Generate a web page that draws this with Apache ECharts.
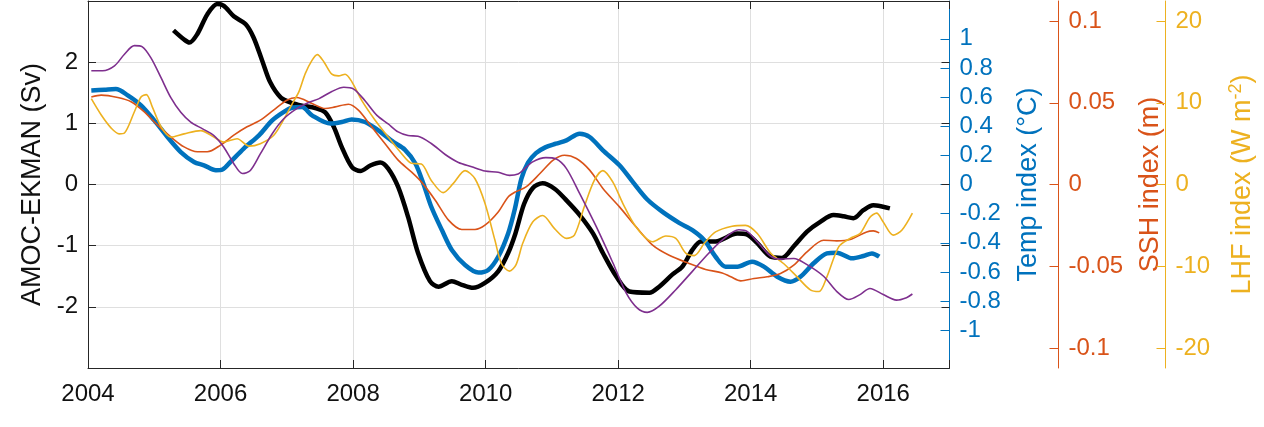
<!DOCTYPE html>
<html>
<head>
<meta charset="utf-8">
<script src="https://cdn.jsdelivr.net/npm/echarts@6/dist/echarts.min.js"></script>
<style>
html,body{margin:0;padding:0;background:#fff;}
#chart{width:1264px;height:427px;}
</style>
</head>
<body>
<div id="chart"></div>
<script>
// ---- tick labels ----
const yearTicks = [2004, 2006, 2008, 2010, 2012, 2014, 2016];
const amocTicks = [-2, -1, 0, 1, 2];
const tempTicks = [-1, -0.8, -0.6, -0.4, -0.2, 0, 0.2, 0.4, 0.6, 0.8, 1];
const sshTicks = [-0.1, -0.05, 0, 0.05, 0.1];
const lhfTicks = [-20, -10, 0, 10, 20];

// ---- series values: [decimal year, value] ----
const amocEkman = [ // Sv
[2005.29,2.52],[2005.45,2.37],[2005.53,2.32],[2005.65,2.46],[2005.80,2.78],[2005.95,2.95],
[2006.05,2.92],[2006.20,2.75],[2006.38,2.62],[2006.50,2.40],[2006.63,2.02],[2006.75,1.67],
[2006.91,1.42],[2007.06,1.34],[2007.23,1.29],[2007.43,1.25],[2007.58,1.18],[2007.71,0.94],
[2007.83,0.61],[2007.98,0.29],[2008.11,0.22],[2008.26,0.31],[2008.41,0.36],[2008.53,0.26],
[2008.68,-0.04],[2008.83,-0.53],[2008.98,-1.12],[2009.16,-1.58],[2009.29,-1.67],[2009.49,-1.58],
[2009.64,-1.64],[2009.81,-1.69],[2009.99,-1.61],[2010.19,-1.42],[2010.34,-1.12],[2010.45,-0.80],
[2010.58,-0.32],[2010.71,-0.06],[2010.86,0.02],[2011.04,-0.07],[2011.22,-0.26],[2011.42,-0.50],
[2011.62,-0.80],[2011.77,-1.12],[2011.97,-1.50],[2012.17,-1.75],[2012.47,-1.77],[2012.62,-1.67],
[2012.82,-1.47],[2012.97,-1.34],[2013.12,-1.07],[2013.25,-0.93],[2013.47,-0.93],[2013.72,-0.82],
[2013.80,-0.80],[2013.95,-0.82],[2014.10,-0.96],[2014.30,-1.18],[2014.47,-1.20],[2014.65,-1.01],
[2014.85,-0.77],[2015.05,-0.61],[2015.25,-0.50],[2015.40,-0.52],[2015.55,-0.55],[2015.70,-0.42],
[2015.85,-0.34],[2015.98,-0.36],[2016.10,-0.39]
];
const tempIndex = [ // degC
[2004.05,0.646],[2004.25,0.651],[2004.42,0.655],[2004.60,0.612],[2004.80,0.543],[2005.00,0.440],
[2005.20,0.326],[2005.40,0.223],[2005.60,0.155],[2005.75,0.132],[2005.93,0.098],[2006.03,0.103],
[2006.15,0.155],[2006.35,0.247],[2006.58,0.338],[2006.78,0.440],[2006.95,0.497],[2007.08,0.527],
[2007.23,0.532],[2007.38,0.475],[2007.66,0.418],[2007.83,0.429],[2007.98,0.447],[2008.18,0.429],
[2008.38,0.372],[2008.61,0.292],[2008.78,0.240],[2008.94,0.144],[2009.06,0.007],[2009.18,-0.153],
[2009.34,-0.313],[2009.49,-0.450],[2009.69,-0.553],[2009.89,-0.605],[2010.04,-0.587],[2010.19,-0.496],
[2010.34,-0.336],[2010.44,-0.170],[2010.54,0.040],[2010.64,0.150],[2010.76,0.215],[2010.90,0.255],
[2011.06,0.280],[2011.22,0.303],[2011.42,0.349],[2011.57,0.326],[2011.77,0.235],[2012.02,0.132],
[2012.22,0.018],[2012.44,-0.103],[2012.67,-0.188],[2012.92,-0.263],[2013.12,-0.313],[2013.30,-0.382],
[2013.47,-0.496],[2013.62,-0.564],[2013.80,-0.564],[2014.02,-0.530],[2014.20,-0.564],[2014.40,-0.633],
[2014.60,-0.667],[2014.75,-0.633],[2014.95,-0.541],[2015.15,-0.473],[2015.30,-0.468],[2015.53,-0.507],
[2015.70,-0.491],[2015.83,-0.473],[2015.94,-0.496]
];
const sshIndex = [ // m
[2004.05,0.0536],[2004.20,0.0547],[2004.45,0.0532],[2004.65,0.0506],[2004.85,0.0444],[2005.05,0.0363],
[2005.25,0.0291],[2005.45,0.0230],[2005.65,0.0200],[2005.80,0.0200],[2006.00,0.0241],[2006.20,0.0302],
[2006.40,0.0353],[2006.60,0.0394],[2006.80,0.0455],[2007.00,0.0516],[2007.15,0.0532],[2007.38,0.0496],
[2007.58,0.0465],[2007.73,0.0475],[2007.93,0.0491],[2008.08,0.0455],[2008.28,0.0353],[2008.48,0.0251],
[2008.68,0.0149],[2008.88,0.0077],[2009.03,0.0016],[2009.24,-0.0096],[2009.44,-0.0218],[2009.64,-0.0275],
[2009.84,-0.0275],[2009.99,-0.0249],[2010.19,-0.0168],[2010.34,-0.0076],[2010.45,-0.0045],[2010.61,-0.0015],
[2010.82,0.0067],[2011.02,0.0149],[2011.19,0.0179],[2011.37,0.0159],[2011.57,0.0088],[2011.77,-0.0024],
[2012.02,-0.0137],[2012.27,-0.0259],[2012.52,-0.0371],[2012.77,-0.0433],[2013.07,-0.0483],[2013.32,-0.0520],
[2013.57,-0.0541],[2013.70,-0.0565],[2013.85,-0.0590],[2014.05,-0.0575],[2014.25,-0.0565],[2014.45,-0.0545],
[2014.65,-0.0494],[2014.85,-0.0412],[2015.10,-0.0341],[2015.30,-0.0345],[2015.50,-0.0337],[2015.75,-0.0290],
[2015.85,-0.0284],[2015.94,-0.0296]
];
const lhfIndex = [ // W m-2
[2004.05,10.5],[2004.20,8.5],[2004.35,6.9],[2004.47,6.2],[2004.55,6.3],[2004.70,8.9],[2004.80,10.7],
[2004.88,11.0],[2004.97,9.5],[2005.10,7.1],[2005.25,5.8],[2005.45,6.2],[2005.70,6.6],[2005.90,5.8],
[2006.05,5.2],[2006.25,5.6],[2006.43,4.7],[2006.60,5.0],[2006.80,6.0],[2006.95,7.9],[2007.11,10.3],
[2007.18,11.3],[2007.28,13.6],[2007.38,15.2],[2007.46,15.9],[2007.56,15.0],[2007.68,13.5],[2007.78,13.3],
[2007.88,13.5],[2007.98,12.6],[2008.13,10.3],[2008.33,7.9],[2008.53,5.8],[2008.73,3.8],[2008.88,2.6],
[2009.03,2.5],[2009.18,0.5],[2009.36,-1.0],[2009.51,0.1],[2009.69,1.7],[2009.84,0.7],[2009.99,-2.3],
[2010.14,-6.8],[2010.24,-9.7],[2010.36,-10.6],[2010.46,-9.8],[2010.56,-7.2],[2010.71,-4.6],[2010.86,-3.8],
[2011.04,-5.4],[2011.22,-6.6],[2011.34,-6.2],[2011.49,-2.7],[2011.64,0.5],[2011.77,1.7],[2011.92,0.3],
[2012.07,-2.3],[2012.27,-5.2],[2012.52,-7.0],[2012.72,-6.3],[2012.87,-6.6],[2013.02,-8.4],[2013.15,-8.7],
[2013.30,-7.2],[2013.47,-5.8],[2013.72,-5.1],[2013.92,-5.0],[2014.10,-6.0],[2014.30,-8.4],[2014.50,-9.7],
[2014.70,-11.3],[2014.90,-12.9],[2015.03,-13.1],[2015.15,-11.3],[2015.33,-7.6],[2015.50,-6.6],[2015.65,-6.0],
[2015.80,-4.0],[2015.90,-3.5],[2016.00,-4.6],[2016.15,-6.2],[2016.28,-5.6],[2016.44,-3.5]
];
const purpleIndex = [ // plotted against left axis
[2004.05,1.86],[2004.22,1.86],[2004.40,1.94],[2004.55,2.13],[2004.70,2.27],[2004.82,2.25],[2004.95,2.07],
[2005.10,1.75],[2005.25,1.42],[2005.40,1.18],[2005.55,1.02],[2005.73,0.91],[2005.90,0.80],[2006.05,0.61],
[2006.20,0.34],[2006.33,0.18],[2006.45,0.23],[2006.60,0.50],[2006.78,0.83],[2006.95,1.07],[2007.15,1.24],
[2007.33,1.34],[2007.48,1.40],[2007.68,1.52],[2007.86,1.59],[2008.01,1.56],[2008.18,1.37],[2008.36,1.13],
[2008.53,0.99],[2008.68,0.86],[2008.83,0.80],[2008.98,0.79],[2009.18,0.67],[2009.39,0.49],[2009.59,0.36],
[2009.79,0.29],[2009.99,0.22],[2010.19,0.20],[2010.36,0.15],[2010.49,0.17],[2010.56,0.23],[2010.71,0.37],
[2010.91,0.44],[2011.06,0.42],[2011.22,0.26],[2011.42,-0.15],[2011.67,-0.69],[2011.92,-1.28],[2012.12,-1.77],
[2012.29,-2.02],[2012.44,-2.09],[2012.62,-1.99],[2012.87,-1.72],[2013.12,-1.42],[2013.37,-1.12],[2013.57,-0.91],
[2013.82,-0.74],[2013.95,-0.77],[2014.12,-0.96],[2014.30,-1.17],[2014.45,-1.22],[2014.65,-1.21],[2014.85,-1.31],
[2015.10,-1.50],[2015.30,-1.75],[2015.48,-1.88],[2015.65,-1.80],[2015.80,-1.70],[2016.00,-1.80],[2016.20,-1.89],
[2016.35,-1.85],[2016.44,-1.79]
];

const FONT = 'Liberation Sans, Arial, Helvetica, sans-serif';
const C_BLUE = '#0072BD', C_RED = '#D95319', C_YEL = '#EDB120', C_PUR = '#7E2F8E', C_AX = '#262626';

const chart = echarts.init(document.getElementById('chart'), null, {renderer: 'canvas'});

function rightAxis(offset, min, max, ticks, color, name, nameGap, rich) {
  const ax = {
    type: 'value', position: 'right', offset: offset, min: min, max: max,
    name: name, nameLocation: 'middle', nameRotate: 90, nameGap: nameGap,
    nameTextStyle: {color: color, fontSize: 27, fontFamily: FONT},
    axisLine: {show: true, onZero: false, lineStyle: {color: color, width: 1}},
    axisTick: {show: true, inside: true, length: 9, customValues: ticks, lineStyle: {color: color}},
    axisLabel: {show: true, customValues: ticks, color: color, fontSize: 24, fontFamily: FONT, margin: 10,
                formatter: v => String(v)},
    splitLine: {show: false}
  };
  if (rich) ax.nameTextStyle.rich = rich;
  return ax;
}

const option = {
  animation: false,
  backgroundColor: '#ffffff',
  grid: {left: 88, right: 312, top: 1, bottom: 59, containLabel: false},
  xAxis: [
    {
      type: 'value', position: 'bottom', min: 2004, max: 2017, interval: 2,
      axisLine: {show: true, onZero: false, lineStyle: {color: C_AX, width: 1}},
      axisTick: {show: true, inside: true, length: 8, lineStyle: {color: C_AX}},
      axisLabel: {customValues: yearTicks, color: '#111', fontSize: 24, fontFamily: FONT, margin: 14,
                  formatter: v => String(v)},
      splitLine: {show: true, lineStyle: {color: '#dfdfdf', width: 1}}
    },
    {
      type: 'value', position: 'top', min: 2004, max: 2017, interval: 2,
      axisLine: {show: true, onZero: false, lineStyle: {color: C_AX, width: 1}},
      axisTick: {show: true, inside: true, length: 8, lineStyle: {color: C_AX}},
      axisLabel: {show: false},
      splitLine: {show: false}
    }
  ],
  yAxis: [
    {
      type: 'value', position: 'left', min: -3, max: 3, interval: 1,
      name: 'AMOC-EKMAN (Sv)', nameLocation: 'middle', nameRotate: 90, nameGap: 42,
      nameTextStyle: {color: '#111', fontSize: 27, fontFamily: FONT},
      axisLine: {show: true, onZero: false, lineStyle: {color: C_AX, width: 1}},
      axisTick: {show: true, inside: true, length: 8, lineStyle: {color: C_AX}},
      axisLabel: {customValues: amocTicks, color: '#111', fontSize: 24, fontFamily: FONT, margin: 10},
      splitLine: {show: true, lineStyle: {color: '#dfdfdf', width: 1}}
    },
    rightAxis(0, -1.26, 1.26, tempTicks, C_BLUE, 'Temp index (°C)', 66),
    rightAxis(109, -0.1123, 0.1123, sshTicks, C_RED, 'SSH index (m)', 79),
    rightAxis(216, -22.46, 22.46, lhfTicks, C_YEL, 'LHF index (W m{sup|-2})', 62,
      {sup: {fontSize: 18, color: C_YEL, fontFamily: FONT, verticalAlign: 'top', lineHeight: 30}}),
    {
      type: 'value', position: 'right', offset: 0, min: -3, max: 3, interval: 1,
      axisLine: {show: false, onZero: false},
      axisTick: {show: true, inside: true, length: 8, customValues: amocTicks, lineStyle: {color: C_AX}},
      axisLabel: {show: false},
      splitLine: {show: false}
    }
  ],
  series: [
    {name: 'AMOC-EKMAN', type: 'line', xAxisIndex: 0, yAxisIndex: 0, data: amocEkman, showSymbol: false, smooth: 0.3,
     lineStyle: {color: '#000', width: 4.5}, z: 3},
    {name: 'Temp', type: 'line', xAxisIndex: 0, yAxisIndex: 1, data: tempIndex, showSymbol: false, smooth: 0.3,
     lineStyle: {color: C_BLUE, width: 4.5}, z: 4},
    {name: 'SSH', type: 'line', xAxisIndex: 0, yAxisIndex: 2, data: sshIndex, showSymbol: false, smooth: 0.3,
     lineStyle: {color: C_RED, width: 1.6}, z: 5},
    {name: 'LHF', type: 'line', xAxisIndex: 0, yAxisIndex: 3, data: lhfIndex, showSymbol: false, smooth: 0.3,
     lineStyle: {color: C_YEL, width: 1.6}, z: 5},
    {name: 'Other', type: 'line', xAxisIndex: 0, yAxisIndex: 0, data: purpleIndex, showSymbol: false, smooth: 0.3,
     lineStyle: {color: C_PUR, width: 1.6}, z: 5}
  ]
};
chart.setOption(option);
</script>
</body>
</html>
